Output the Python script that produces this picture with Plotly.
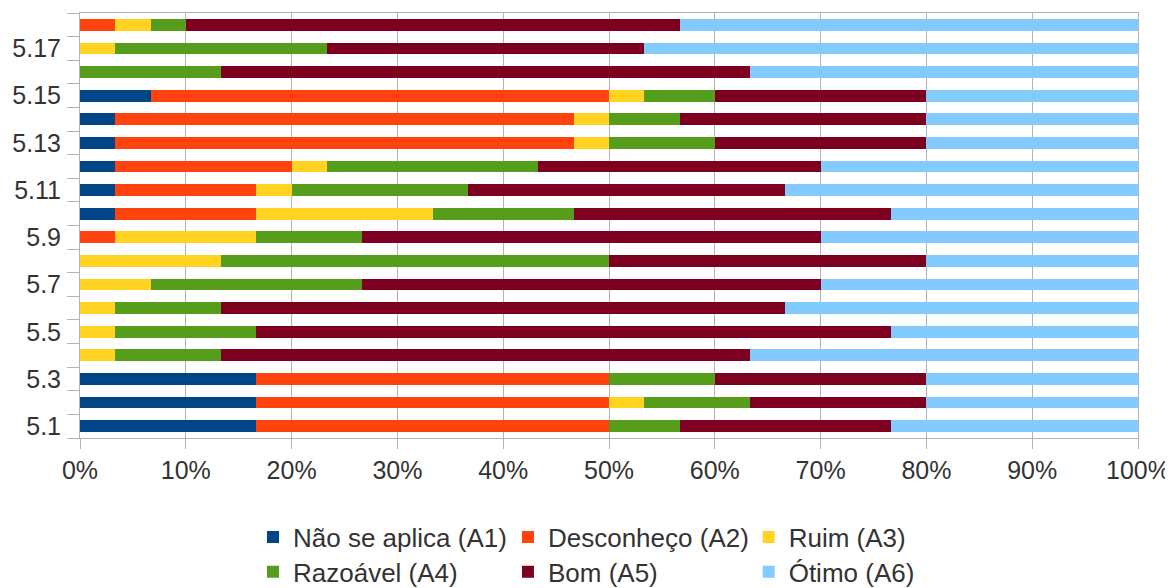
import plotly.graph_objects as go

categories = ["5.1", "5.2", "5.3", "5.4", "5.5", "5.6", "5.7", "5.8", "5.9",
              "5.10", "5.11", "5.12", "5.13", "5.14", "5.15", "5.16", "5.17", "5.18"]

# answer counts per item (30 respondents)
a1 = [5, 5, 5, 0, 0, 0, 0, 0, 0, 1, 1, 1, 1, 1, 2, 0, 0, 0]
a2 = [10, 10, 10, 0, 0, 0, 0, 0, 1, 4, 4, 5, 13, 13, 13, 0, 0, 1]
a3 = [0, 1, 0, 1, 1, 1, 2, 4, 4, 5, 1, 1, 1, 1, 1, 0, 1, 1]
a4 = [2, 3, 3, 3, 4, 3, 6, 11, 3, 4, 5, 6, 3, 2, 2, 4, 6, 1]
a5 = [6, 5, 6, 15, 18, 16, 13, 9, 13, 9, 9, 8, 6, 7, 6, 15, 9, 14]
a6 = [7, 6, 6, 11, 7, 10, 9, 6, 9, 7, 10, 9, 6, 6, 6, 11, 14, 13]

series_names = ["Não se aplica (A1)", "Desconheço (A2)", "Ruim (A3)",
                "Razoável (A4)", "Bom (A5)", "Ótimo (A6)"]
series_values = [a1, a2, a3, a4, a5, a6]
colors = ["#004586", "#ff420e", "#ffd320", "#579d1c", "#7e0021", "#83caff"]

tick_labels = [c if i % 2 == 0 else "" for i, c in enumerate(categories)]

FONT = "Liberation Sans, Arial, sans-serif"
TXT = "#333333"
GRID = "#b3b3b3"

fig = go.Figure()
legend_ids = ["legend", "legend2", "legend3", "legend4", "legend5", "legend6"]
for name, vals, col, lid in zip(series_names, series_values, colors, legend_ids):
    fig.add_trace(go.Bar(
        y=categories, x=vals, name=name, orientation="h",
        marker=dict(color=col, line=dict(width=0)),
        legend=lid,
    ))

# legend placement (one legend per entry to reproduce the 3-column grid)
col_x = [0.1635, 0.4045, 0.632]
row_y = [-0.233, -0.315]
leg_layout = {}
for i, lid in enumerate(legend_ids):
    leg_layout[lid] = dict(
        x=col_x[i % 3], y=row_y[i // 3], xanchor="left", yanchor="middle",
        orientation="h", bgcolor="rgba(0,0,0,0)", borderwidth=0,
        font=dict(family=FONT, size=26, color=TXT), itemwidth=30,
    )

# page body adds an 8px offset, so the figure is 8px smaller on each axis
fig.update_layout(
    width=1165, height=580,
    margin=dict(l=72, r=35, t=5, b=150, autoexpand=False),
    paper_bgcolor="white", plot_bgcolor="white",
    barmode="stack", barnorm="percent", bargap=0.5,
    font=dict(family=FONT, size=25, color=TXT),
    showlegend=True,
    **leg_layout,
)

fig.update_xaxes(
    range=[0, 100], dtick=10, ticksuffix="%",
    showgrid=True, gridcolor=GRID, gridwidth=1,
    showline=True, linecolor=GRID, linewidth=1, mirror=True,
    ticks="outside", ticklen=10, tickcolor=GRID,
    tickfont=dict(family=FONT, size=25, color=TXT),
    zeroline=False, fixedrange=True, automargin=False,
)
fig.update_yaxes(
    type="category", categoryorder="array", categoryarray=categories,
    tickvals=categories, ticktext=tick_labels, tickson="boundaries",
    range=[-0.5, 17.5],
    showgrid=False, showline=True, linecolor=GRID, linewidth=1, mirror=True,
    ticks="outside", ticklen=12, tickcolor=GRID, ticklabelstandoff=13,
    tickfont=dict(family=FONT, size=25, color=TXT),
    zeroline=False, fixedrange=True, automargin=False,
)

fig.write_html("out.html")
